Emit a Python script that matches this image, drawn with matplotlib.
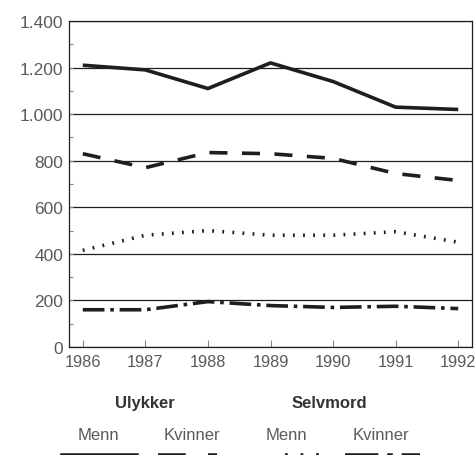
import numpy as np
import matplotlib
matplotlib.use("Agg")
import matplotlib.pyplot as plt
from matplotlib.lines import Line2D
from matplotlib.ticker import FuncFormatter, MultipleLocator

years = [1986, 1987, 1988, 1989, 1990, 1991, 1992]
ulykker_menn = [1210, 1190, 1110, 1220, 1140, 1030, 1020]
ulykker_kvinner = [830, 770, 835, 830, 810, 745, 715]
selvmord_menn = [415, 480, 500, 480, 480, 495, 450]
selvmord_kvinner = [160, 160, 195, 178, 170, 175, 165]

groups = ["Ulykker", "Selvmord"]
sub_labels = ["Menn", "Kvinner", "Menn", "Kvinner"]

plt.rcParams['font.family'] = ['Liberation Sans', 'DejaVu Sans']

ink = "#1e1e1e"
txt = "#5a5a5a"

fig = plt.figure(figsize=(4.76, 4.56), dpi=100)
ax = fig.add_axes([0.145, 0.2368, 0.8466, 0.715])

styles = [
    dict(linestyle="-"),
    dict(linestyle=(0, (5, 4))),
    dict(linestyle=(0, (0.5, 2.3))),
    dict(linestyle=(0, (6, 1.6, 1, 1.6))),
]
series = [ulykker_menn, ulykker_kvinner, selvmord_menn, selvmord_kvinner]
for vals, st in zip(series, styles):
    ax.plot(years, vals, color=ink, lw=2.6, solid_capstyle="butt",
            dash_capstyle="butt", **st)

ax.set_xlim(1985.78, 1992.22)
ax.set_ylim(0, 1400)
ax.yaxis.set_major_locator(MultipleLocator(200))
ax.yaxis.set_minor_locator(MultipleLocator(100))
ax.yaxis.set_major_formatter(FuncFormatter(lambda v, p: f"{int(v):,}".replace(",", ".")))
ax.set_xticks(years)
ax.grid(axis="y", which="major", color=ink, lw=0.9)
ax.tick_params(axis="y", which="both", direction="in", length=3, width=0.8,
               labelsize=12.5, labelcolor=txt, pad=4, color="#888888")
ax.tick_params(axis="x", direction="in", length=5, width=0.8,
               labelsize=11.8, labelcolor=txt, pad=5, color="#888888")
for s in ax.spines.values():
    s.set_color(ink)
    s.set_linewidth(0.9)

# legend: group headers, sub labels and line samples below axes
fig.text(0.304, 0.116, groups[0], ha="center", va="center", fontsize=12,
         fontweight="bold", color="#333333")
fig.text(0.691, 0.116, groups[1], ha="center", va="center", fontsize=12,
         fontweight="bold", color="#333333")
for xc, lab in zip([0.207, 0.403, 0.602, 0.80], sub_labels):
    fig.text(xc, 0.046, lab, ha="center", va="center", fontsize=12, color=txt)

sample_x = [(0.132, 0.285), (0.332, 0.456), (0.599, 0.687), (0.725, 0.882)]
for (x0, x1), st in zip(sample_x, styles):
    fig.add_artist(Line2D([x0, x1], [-0.002, -0.002], transform=fig.transFigure,
                          color=ink, lw=4, **st))

fig.savefig("out.png", dpi=100)
